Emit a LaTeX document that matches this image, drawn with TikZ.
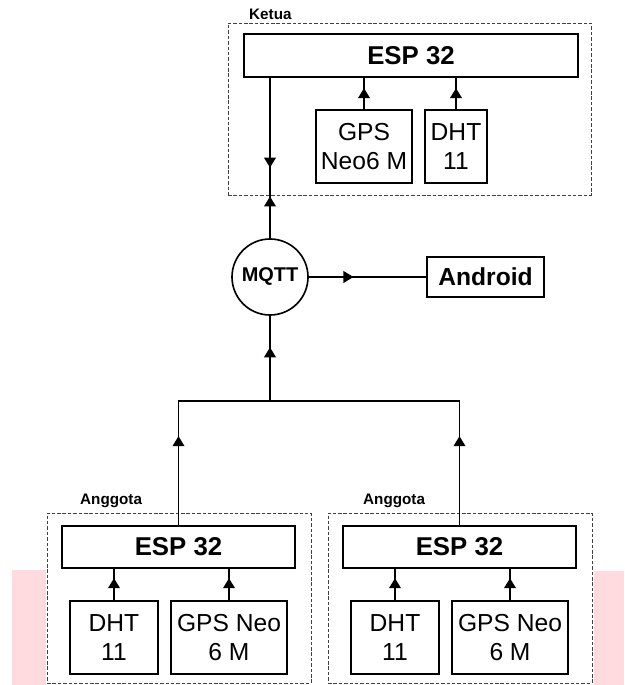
\documentclass[tikz,border=0pt]{standalone}
\usepackage{fontspec}
\setmainfont{Liberation Sans}
\usetikzlibrary{arrows.meta, decorations.markings}

\definecolor{blush}{RGB}{255,218,222}

\begin{document}
\begin{tikzpicture}[x=0.03cm, y=-0.03cm,
    group/.style={draw=black!75, dashed, dash pattern=on 3pt off 1.6pt, line width=0.7pt, inner sep=0},
    mcu/.style={draw, line width=1.4pt, inner sep=0, font=\fontsize{22}{26}\selectfont\bfseries},
    sensor/.style={draw, line width=1.4pt, inner sep=0, align=center, minimum height=2.19cm, font=\fontsize{21}{25.5}\selectfont},
    tag/.style={anchor=west, inner sep=0, font=\fontsize{13}{15}\selectfont\bfseries},
    midarrow/.style={postaction={decorate, decoration={markings, mark=at position #1 with {\arrow{Triangle[width=10pt, length=8.5pt]}}}}},
    backarrow/.style={postaction={decorate, decoration={markings, mark=at position #1 with {\arrowreversed{Triangle[width=10pt, length=8.5pt]}}}}}]

    \useasboundingbox[fill=white] (0,0) rectangle (624,685);
    \fill[blush] (12,570) rectangle (46,685);
    \fill[blush] (594,571) rectangle (624,685);

    % ketua
    \node[group, minimum width=10.89cm, minimum height=5.16cm] (grpK) at (409.5,109) {};
    \node[tag] (tagK) at (249,14) {Ketua};
    \node[mcu, minimum width=10.02cm, minimum height=1.29cm] (espK) at (411,55.5) {ESP 32};
    \node[sensor, minimum width=2.88cm] (gpsK) at (364,146.5) {GPS\\Neo6 M};
    \node[sensor, minimum width=1.86cm] (dhtK) at (456,146.5) {DHT\\11};

    % broker
    \node[circle, draw, line width=1.4pt, inner sep=0, minimum size=2.28cm, font=\fontsize{17}{20}\selectfont\bfseries] (mqtt) at (270,277) {MQTT};
    \node[draw, line width=1.4pt, inner sep=0, minimum width=3.51cm, minimum height=1.2cm, font=\fontsize{21}{25}\selectfont\bfseries] (android) at (485.5,277) {Android};
    \coordinate (join) at (270,401);

    % anggota
    \node[group, minimum width=7.92cm, minimum height=5.1cm] (grpL) at (179,598) {};
    \node[tag] (tagL) at (80,501) {Anggota};
    \node[mcu, minimum width=6.99cm, minimum height=1.26cm] (espL) at (178.5,547) {ESP 32};
    \node[sensor, minimum width=2.64cm] (dhtL) at (114,637.5) {DHT\\11};
    \node[sensor, minimum width=3.48cm] (gpsL) at (229,637.5) {GPS Neo\\6 M};

    \node[group, minimum width=7.92cm, minimum height=5.1cm] (grpR) at (460,598) {};
    \node[tag] (tagR) at (363,501) {Anggota};
    \node[mcu, minimum width=6.99cm, minimum height=1.26cm] (espR) at (459.5,547) {ESP 32};
    \node[sensor, minimum width=2.64cm] (dhtR) at (395,637.5) {DHT\\11};
    \node[sensor, minimum width=3.48cm] (gpsR) at (510,637.5) {GPS Neo\\6 M};

    \begin{scope}[line width=1.2pt]
    \draw[midarrow=0.67] (gpsK.north) -- (gpsK.north |- espK.south);
    \draw[midarrow=0.67] (dhtK.north) -- (dhtK.north |- espK.south);
    \draw[midarrow=0.26, backarrow=0.44] (mqtt.north) -- (mqtt.north |- espK.south);
    \draw[midarrow=0.38] (mqtt.east) -- (android.west);
    \draw[midarrow=0.63] (join) -- (mqtt.south);
    \draw[midarrow=2.67cm] (espL.north) -- (espL.north |- join) -- (join);
    \draw[midarrow=2.67cm] (espR.north) -- (espR.north |- join) -- (join);
    \draw[midarrow=0.7] (dhtL.north) -- (dhtL.north |- espL.south);
    \draw[midarrow=0.7] (gpsL.north) -- (gpsL.north |- espL.south);
    \draw[midarrow=0.7] (dhtR.north) -- (dhtR.north |- espR.south);
    \draw[midarrow=0.7] (gpsR.north) -- (gpsR.north |- espR.south);
    \end{scope}
\end{tikzpicture}
\end{document}
